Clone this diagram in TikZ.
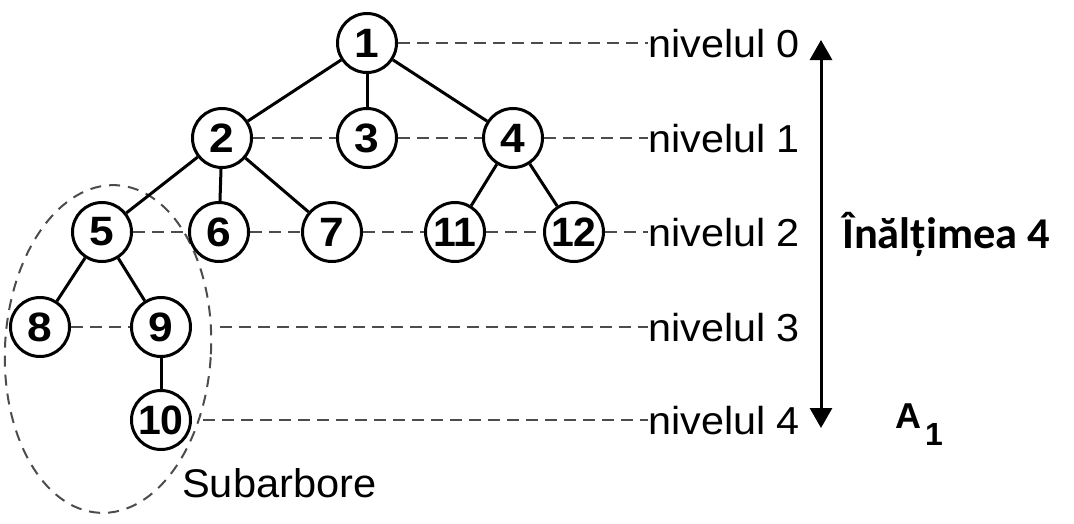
\documentclass[tikz,border=0pt]{standalone}
\usepackage{fontspec}
\usepackage{graphicx}
\setmainfont{Liberation Sans}
\newfontfamily\calib{Carlito}
\usetikzlibrary{arrows.meta}
\newcommand\sx[1]{\scalebox{1.08}[1]{#1}}
\tikzset{
  vtx/.style={circle, draw, line width=3pt, minimum size=59pt, inner sep=0pt, fill=white,
    font=\bfseries\fontsize{41}{41}\selectfont},
  edge/.style={line width=3pt},
  lvl/.style={dash pattern=on 12pt off 7pt, line width=1.8pt, black!70},
  lbl/.style={anchor=base west, inner sep=0pt, font=\fontsize{39}{39}\selectfont},
}
\begin{document}
\begin{tikzpicture}[x=1pt,y=-1pt]
\path[use as bounding box] (0,0) rectangle (1074,523);
% subtree ellipse
\draw[dash pattern=on 11pt off 8pt, line width=2pt, black!70, rotate around={-3:(108,349)}]
  (108,349) ellipse [x radius=103pt, y radius=164pt];
\coordinate (c3) at (220,327);
\coordinate (c4) at (203,420);
% nodes
\node[vtx] (n1) at (367,43) {\sx{1}};
\node[vtx] (n2) at (222,138) {\sx{2}};
\node[vtx] (n3) at (367,138) {\sx{3}};
\node[vtx] (n4) at (513,138) {\sx{4}};
\node[vtx] (n5) at (102,232) {\sx{5}};
\node[vtx] (n6) at (219,232) {\sx{6}};
\node[vtx] (n7) at (332,232) {\sx{7}};
\node[vtx] (n11) at (455,232) {11};
\node[vtx] (n12) at (574,232) {12};
\node[vtx] (n8) at (40,327) {\sx{8}};
\node[vtx] (n9) at (161,327) {\sx{9}};
\node[vtx] (n10) at (161,420) {10};
% level labels
\node[lbl] (L0) at (648,57) {\scalebox{1.06}[1]{nivelul 0}};
\node[lbl] (L1) at (648,152) {\scalebox{1.06}[1]{nivelul 1}};
\node[lbl] (L2) at (648,246) {\scalebox{1.06}[1]{nivelul 2}};
\node[lbl] (L3) at (648,341) {\scalebox{1.06}[1]{nivelul 3}};
\node[lbl] (L4) at (648,434) {\scalebox{1.06}[1]{nivelul 4}};
% tree edges
\draw[edge] (n1) -- (n2);
\draw[edge] (n1) -- (n3);
\draw[edge] (n1) -- (n4);
\draw[edge] (n2) -- (n5);
\draw[edge] (n2) -- (n6);
\draw[edge] (n2) -- (n7);
\draw[edge] (n4) -- (n11);
\draw[edge] (n4) -- (n12);
\draw[edge] (n5) -- (n8);
\draw[edge] (n5) -- (n9);
\draw[edge] (n9) -- (n10);
% dashed level lines
\draw[lvl] (n1.east) -- (L0.west |- n1.east);
\draw[lvl] (n2) -- (n3);
\draw[lvl] (n3) -- (n4);
\draw[lvl] (n4.east) -- (L1.west |- n4.east);
\draw[lvl] (n5) -- (n6);
\draw[lvl] (n6) -- (n7);
\draw[lvl] (n7) -- (n11);
\draw[lvl] (n11) -- (n12);
\draw[lvl] (n12.east) -- (L2.west |- n12.east);
\draw[lvl] (n8) -- (n9);
\draw[lvl] (c3) -- (L3.west |- c3);
\draw[lvl] (c4) -- (L4.west |- c4);
% height arrow
\coordinate (atop) at (821,40);
\coordinate (abot) at (821,428);
\draw[line width=3pt, {Triangle[width=22pt,length=20pt]}-{Triangle[width=22pt,length=20pt]}] (atop) -- (abot);
\node[anchor=base west, inner sep=0pt, font=\calib\bfseries\fontsize{44}{44}\selectfont] (h) at (842,248) {\scalebox{1.01}[1]{Înălțimea 4}};
\node[anchor=base west, inner sep=0pt, font=\bfseries\fontsize{36}{36}\selectfont] (a1) at (895,428) {A\hspace{4pt}\raisebox{-17pt}{\fontsize{32}{32}\selectfont 1}};
\node[anchor=base west, inner sep=0pt, font=\fontsize{40}{40}\selectfont] (sub) at (182,497) {\scalebox{1.04}[1]{Subarbore}};
\end{tikzpicture}
\end{document}
